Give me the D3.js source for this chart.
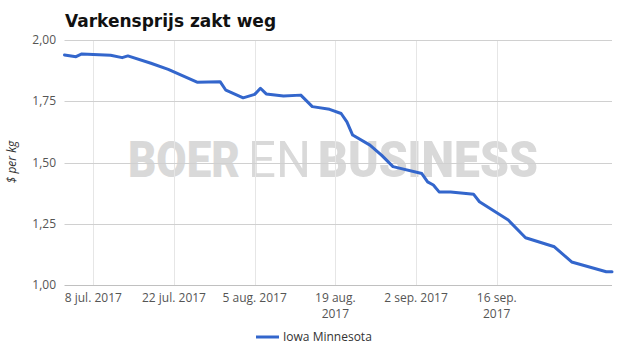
<!DOCTYPE html>
<html><head><meta charset="utf-8">
<script src="https://cdn.jsdelivr.net/npm/d3@7"></script>
<style>body{margin:0;background:#fff}svg{display:block}</style>
</head><body>
<script>
const dates = ["2017-07-03","2017-07-05","2017-07-06","2017-07-11","2017-07-13","2017-07-14","2017-07-18","2017-07-21","2017-07-26","2017-07-30","2017-07-31","2017-08-03","2017-08-05","2017-08-06","2017-08-07","2017-08-10","2017-08-13","2017-08-15","2017-08-18","2017-08-20","2017-08-21","2017-08-22","2017-08-25","2017-08-27","2017-08-29","2017-09-03","2017-09-04","2017-09-05","2017-09-06","2017-09-08","2017-09-12","2017-09-13","2017-09-18","2017-09-21","2017-09-26","2017-09-29","2017-10-05","2017-10-06"];
const values = [1.939,1.932,1.943,1.938,1.928,1.935,1.905,1.880,1.828,1.830,1.795,1.764,1.778,1.803,1.780,1.771,1.775,1.728,1.717,1.700,1.666,1.612,1.571,1.530,1.483,1.455,1.421,1.408,1.380,1.380,1.370,1.340,1.265,1.193,1.156,1.094,1.054,1.054];
const seriesName = "Iowa Minnesota";
const yTicks = [1.00,1.25,1.50,1.75,2.00];
const xTickDates = ["2017-07-08","2017-07-22","2017-08-05","2017-08-19","2017-09-02","2017-09-16"];
const xTickLabels = ["8 jul. 2017","22 jul. 2017","5 aug. 2017","19 aug.\n2017","2 sep. 2017","16 sep.\n2017"];
const title = "Varkensprijs zakt weg";
const yTitle = "$ per kg";

const W=625,H=355;
const parse = d3.utcParse("%Y-%m-%d");
const data = dates.map((d,i)=>({date:parse(d),value:values[i]}));
const svg = d3.select("body").append("svg").attr("width",W).attr("height",H);
const font = "'Open Sans', sans-serif";

const x = d3.scaleUtc().domain(d3.extent(data,d=>d.date)).range([64.5,612]);
const y = d3.scaleLinear().domain([1,2]).range([285,40]);

// watermark: three parts, each horizontally scaled to its slot
const wm = svg.append("g").attr("fill","#d9d9d9");
[["BOER",128,112,900],["EN",248,63,400],["BUSINESS",318,220,900]].forEach(([t,x0,len,w])=>{
  const tx = wm.append("text").attr("font-family","Roboto, sans-serif").attr("font-size",50)
    .attr("font-weight",w).text(t);
  const bb = tx.node().getBBox();
  const s = len/bb.width;
  tx.attr("transform",`translate(${x0 - bb.x*s},177) scale(${s},1)`);
});

// vertical grid
svg.append("g").selectAll("line").data(xTickDates).join("line")
  .attr("x1",d=>Math.round(x(parse(d)))+0.5).attr("x2",d=>Math.round(x(parse(d)))+0.5)
  .attr("y1",40).attr("y2",285).attr("stroke","#e6e6e6");
// horizontal grid
svg.append("g").selectAll("line").data(yTicks).join("line")
  .attr("x1",64.5).attr("x2",612).attr("y1",d=>Math.round(y(d))+0.5).attr("y2",d=>Math.round(y(d))+0.5)
  .attr("stroke",d=>d===1?"#c0c0c0":"#d0d0d0");

// y labels
svg.append("g").selectAll("text").data(yTicks).join("text")
  .attr("x",56).attr("y",d=>y(d)).attr("dy","0.35em").attr("text-anchor","end")
  .attr("font-family",font).attr("font-size",12).attr("fill","#555")
  .text(d=>d3.format(".2f")(d).replace(".",","));

// x labels
const xl = svg.append("g").selectAll("text").data(xTickDates).join("text")
  .attr("x",d=>x(parse(d))).attr("y",302).attr("text-anchor","middle")
  .attr("font-family",font).attr("font-size",12).attr("fill","#555");
xl.each(function(d,i){
  const lines = xTickLabels[i].split("\n");
  d3.select(this).selectAll("tspan").data(lines).join("tspan")
    .attr("x",x(parse(d))).attr("dy",(l,j)=>j?"1.35em":0).text(l=>l);
});

// y title
svg.append("text").attr("transform","translate(16,162) rotate(-90)").attr("text-anchor","middle")
  .attr("font-family",font).attr("font-style","italic").attr("font-size",12).attr("fill","#333").text(yTitle);

// title
svg.append("text").attr("x",65).attr("y",27).attr("font-family","'DejaVu Sans', sans-serif")
  .attr("font-weight","bold").attr("font-size",17).attr("fill","#111").text(title);

// line
svg.append("path").datum(data).attr("fill","none").attr("stroke","#3366cc").attr("stroke-width",3)
  .attr("stroke-linejoin","round").attr("stroke-linecap","round")
  .attr("d",d3.line().x(d=>x(d.date)).y(d=>y(d.value)));

// legend
svg.append("line").attr("x1",256).attr("x2",279).attr("y1",337).attr("y2",337).attr("stroke","#3366cc").attr("stroke-width",3);
svg.append("text").attr("x",283).attr("y",337).attr("dy","0.35em").attr("font-family",font).attr("font-size",12)
  .attr("fill","#333").text(seriesName);
</script>
</body></html>
